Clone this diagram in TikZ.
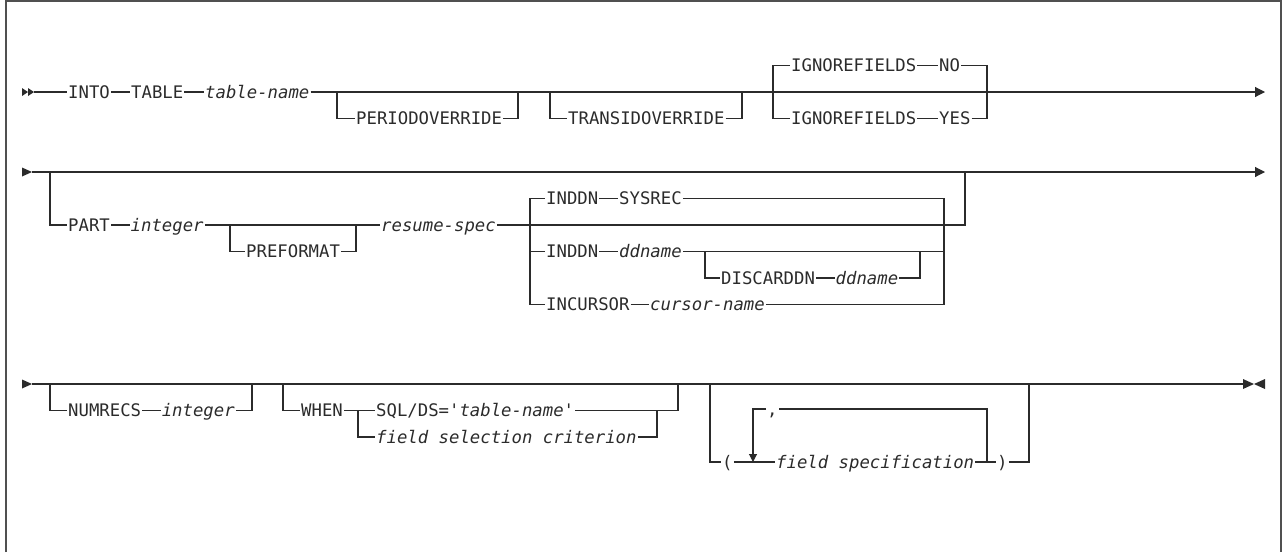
\documentclass[tikz,border=0pt]{standalone}
\usepackage{fontspec}
\setmainfont{DejaVu Sans Mono}
\usepackage{tikz}
\usetikzlibrary{arrows.meta}
\definecolor{railgray}{HTML}{2B2B2B}
\definecolor{framegray}{HTML}{505050}

\begin{document}
\begin{tikzpicture}[
  x=1pt, y=-1pt,
  kw/.style={
    anchor=west,
    inner xsep=1pt,
    inner ysep=0pt,
    text height=12.6pt,
    text depth=0pt,
    text=railgray,
    font=\fontsize{17.3}{20}\selectfont
  },
  var/.style={kw, font=\fontsize{17.3}{20}\selectfont\itshape},
  rail/.style={draw=railgray, line width=1.1pt},
  arr/.style={rail, -{Triangle[length=10pt, width=10pt]}},
  looparr/.style={rail, -{Triangle[length=8pt, width=8pt]}},
  frame/.style={draw=framegray, line width=2pt}
]
\useasboundingbox (0,0) rectangle (1283,552);

% frame
\draw[frame] (6,552) -- (6,1) -- (1281,1) -- (1281,552);

% row 1
\fill[railgray] (22,88) -- (28,92) -- (22,96) -- cycle;
\fill[railgray] (28,88) -- (34,92) -- (28,96) -- cycle;
\coordinate (s1) at (34,92);
\coordinate (e1) at (1265,92);
\coordinate (a1) at (337,92);
\coordinate (a2) at (518,92);
\coordinate (b1) at (550,92);
\coordinate (b2) at (742,92);
\coordinate (g1) at (773,92);
\coordinate (g2) at (987,92);

\node[kw] (into) at (67,92) {INTO};
\node[kw] (table) at (130,92) {TABLE};
\node[var] (tname) at (204,92) {table-name};
\node[kw] (periodovr) at (355,118.5) {PERIODOVERRIDE};
\node[kw] (transidovr) at (567,118.5) {TRANSIDOVERRIDE};
\node[kw] (ignfldno) at (790,65.5) {IGNOREFIELDS};
\node[kw] (ignno) at (938,65.5) {NO};
\node[kw] (ignfldyes) at (790,118.5) {IGNOREFIELDS};
\node[kw] (ignyes) at (938,118.5) {YES};

\draw[rail] (s1) -- (into);
\draw[rail] (into) -- (table);
\draw[rail] (table) -- (tname);
\draw[arr] (tname) -- (e1);
\draw[rail] (a1) |- (periodovr);
\draw[rail] (periodovr) -| (a2);
\draw[rail] (b1) |- (transidovr);
\draw[rail] (transidovr) -| (b2);
\draw[rail] (g1) |- (ignfldno);
\draw[rail] (ignfldno) -- (ignno);
\draw[rail] (ignno) -| (g2);
\draw[rail] (g1) |- (ignfldyes);
\draw[rail] (ignfldyes) -- (ignyes);
\draw[rail] (ignyes) -| (g2);

% row 2
\fill[railgray] (22,167.5) -- (32,172) -- (22,176.5) -- cycle;
\coordinate (s2) at (32,172);
\coordinate (e2) at (1265,172);
\coordinate (q1) at (50,172);
\coordinate (q2) at (965,172);
\coordinate (f1) at (230,225);
\coordinate (f2) at (356,225);
\coordinate (c1) at (530,225);
\coordinate (c2) at (944,225);
\coordinate (k1) at (705,251.5);
\coordinate (k2) at (920,251.5);

\node[kw] (part) at (67,225) {PART};
\node[var] (partint) at (129.5,225) {integer};
\node[kw] (preformat) at (245,251.5) {PREFORMAT};
\node[var] (resspec) at (380,225) {resume-spec};
\node[kw] (inddna) at (545,198.5) {INDDN};
\node[kw] (sysrec) at (618,198.5) {SYSREC};
\node[kw] (inddnb) at (545,251.5) {INDDN};
\node[var] (ddnamea) at (618,251.5) {ddname};
\node[kw] (discard) at (720,278) {DISCARDDN};
\node[var] (ddnameb) at (834.5,278) {ddname};
\node[kw] (incursor) at (545,304.5) {INCURSOR};
\node[var] (curname) at (649,304.5) {cursor-name};

\draw[arr] (s2) -- (e2);
\draw[rail] (q1) |- (part);
\draw[rail] (part) -- (partint);
\draw[rail] (partint) -- (resspec);
\draw[rail] (f1) |- (preformat);
\draw[rail] (preformat) -| (f2);
\draw[rail] (resspec) -| (q2);
\draw[rail] (c1) |- (inddna);
\draw[rail] (inddna) -- (sysrec);
\draw[rail] (sysrec) -| (c2);
\draw[rail] (c1) |- (inddnb);
\draw[rail] (inddnb) -- (ddnamea);
\draw[rail] (ddnamea) -| (c2);
\draw[rail] (k1) |- (discard);
\draw[rail] (discard) -- (ddnameb);
\draw[rail] (ddnameb) -| (k2);
\draw[rail] (c1) |- (incursor);
\draw[rail] (incursor) -- (curname);
\draw[rail] (curname) -| (c2);

% row 3
\fill[railgray] (22,379.5) -- (32,384) -- (22,388.5) -- cycle;
\fill[railgray] (1243,379) -- (1254,384) -- (1243,389) -- cycle;
\fill[railgray] (1265,379) -- (1254,384) -- (1265,389) -- cycle;
\coordinate (s3) at (32,384);
\coordinate (e3) at (1243,384);
\coordinate (n1) at (50,384);
\coordinate (n2) at (252,384);
\coordinate (w1) at (283,384);
\coordinate (w2) at (678,384);
\coordinate (v1) at (358,410.5);
\coordinate (v2) at (657,410.5);
\coordinate (o1) at (710,384);
\coordinate (o2) at (1029,384);
\coordinate (lr) at (987,462);
\coordinate (lb) at (753,462);

\node[kw] (numrecs) at (67,410.5) {NUMRECS};
\node[var] (numint) at (160.6,410.5) {integer};
\node[kw] (when) at (300,410.5) {WHEN};
\node[kw] (sqlds) at (375,410.5) {SQL/DS=\textquotesingle\textit{table-name}\textquotesingle};
\node[var] (fldsel) at (375,437) {field selection criterion};
\node[kw] (lpar) at (721,462) {(};
\node[var] (fldspec) at (775,462) {field specification};
\node[kw] (rpar) at (996,462) {)};
\node[kw] (comma) at (766,409) {,};

\draw[rail] (s3) -- (e3);
\draw[railgray, line width=2.4pt] (1034,384) -- (1052,384);
\draw[rail] (n1) |- (numrecs);
\draw[rail] (numrecs) -- (numint);
\draw[rail] (numint) -| (n2);
\draw[rail] (w1) |- (when);
\draw[rail] (when) -- (sqlds);
\draw[rail] (sqlds) -| (w2);
\draw[rail] (v1) |- (fldsel);
\draw[rail] (fldsel) -| (v2);
\draw[rail] (o1) |- (lpar);
\draw[rail] (lpar) -- (fldspec);
\draw[rail] (fldspec) -- (rpar);
\draw[rail] (rpar) -| (o2);
\draw[rail] (lr) |- (comma);
\draw[looparr] (comma) -| (lb);

\end{tikzpicture}
\end{document}
